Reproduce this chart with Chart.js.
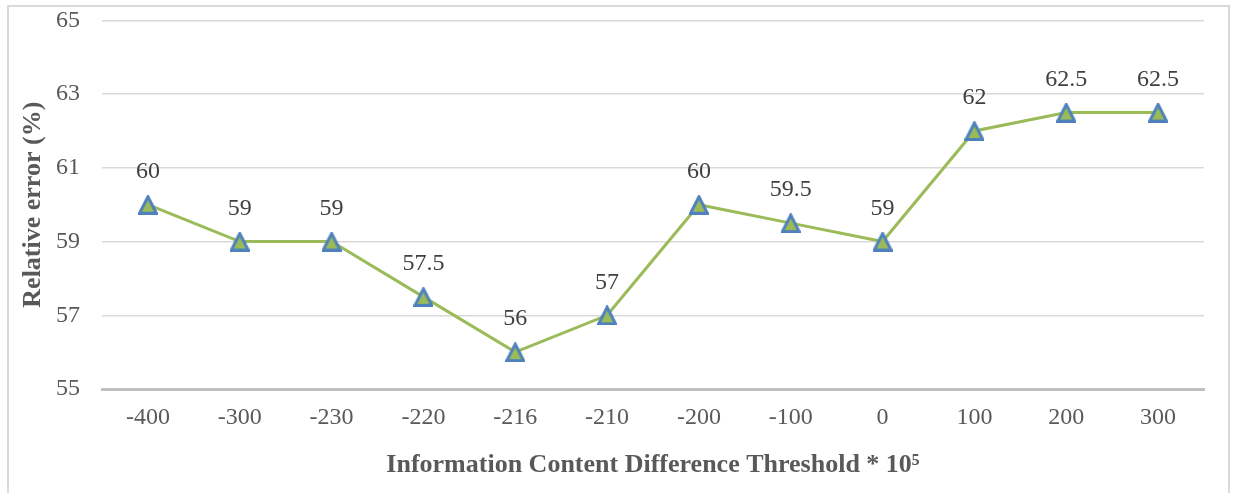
<!DOCTYPE html>
<html>
<head>
<meta charset="utf-8">
<script src="https://cdn.jsdelivr.net/npm/chart.js@4.4.1/dist/chart.umd.min.js"></script>
<style>
  html, body { margin: 0; padding: 0; background: #fff; }
  #wrap { position: relative; width: 1235px; height: 493px; overflow: hidden; }
  #frame { position: absolute; left: 7px; top: 5px; width: 1223px; height: 520px;
           border: 2px solid #D9D9D9; box-sizing: border-box; pointer-events: none; }
  canvas { position: absolute; left: 0; top: 0; }
</style>
</head>
<body>
<div id="wrap">
  <canvas id="chart" width="1235" height="493"></canvas>
  <div id="frame"></div>
</div>
<script>
// データ
const thresholds = ['-400', '-300', '-230', '-220', '-216', '-210', '-200', '-100', '0', '100', '200', '300'];
const relErrors = [60, 59, 59, 57.5, 56, 57, 60, 59.5, 59, 62, 62.5, 62.5];
const yTicks = [55, 57, 59, 61, 63, 65];

const serif = "'Liberation Serif', 'DejaVu Serif', serif";

// 三角マーカー（外接矩形の中心が点の位置になるように画像で作る）
function makeTriangle(size) {
    const c = document.createElement('canvas');
    c.width = size;
    c.height = size;
    const g = c.getContext('2d');
    const lw = 3;
    g.beginPath();
    g.moveTo(size / 2, lw / 2 + 0.5);
    g.lineTo(size - lw / 2, size - lw / 2);
    g.lineTo(lw / 2, size - lw / 2);
    g.closePath();
    g.fillStyle = '#9BBB59';
    g.fill();
    g.lineWidth = lw;
    g.lineJoin = 'miter';
    g.strokeStyle = '#4F81BD';
    g.stroke();
    return c;
}
const triangleMarker = makeTriangle(20);

// 点の上に値を描くだけの簡単なプラグイン
const valueLabels = {
    id: 'valueLabels',
    afterDatasetsDraw(chart) {
        const ctx = chart.ctx;
        const meta = chart.getDatasetMeta(0);
        ctx.save();
        ctx.font = '24px ' + serif;
        ctx.fillStyle = '#404040';
        ctx.textAlign = 'center';
        ctx.textBaseline = 'middle';
        meta.data.forEach((pt, i) => {
            ctx.fillText(String(relErrors[i]), pt.x, pt.y - 33);
        });
        ctx.restore();
    }
};

new Chart(document.getElementById('chart').getContext('2d'), {
    type: 'line',
    data: {
        labels: thresholds,
        datasets: [{
            data: relErrors,
            borderColor: '#9BBB59',
            borderWidth: 3,
            tension: 0,
            pointStyle: triangleMarker,
            pointRadius: 10
        }]
    },
    options: {
        responsive: false,
        animation: false,
        layout: { padding: { left: 0, right: 31, top: 0, bottom: 0 } },
        plugins: { legend: { display: false }, tooltip: { enabled: false } },
        scales: {
            x: {
                offset: true,
                grid: { display: false, drawTicks: false },
                border: { display: true, color: '#BFBFBF', width: 3 },
                ticks: { color: '#595959', font: { family: serif, size: 24 }, padding: 14, maxRotation: 0 },
                title: {
                    display: true,
                    text: 'Information Content Difference Threshold * 10⁵',
                    color: '#595959',
                    font: { family: serif, size: 26, weight: 'bold' },
                    padding: { top: 0, bottom: 12 }
                },
                afterFit(scale) { scale.height = 104; }
            },
            y: {
                min: 55,
                max: 65,
                afterBuildTicks(scale) { scale.ticks = yTicks.map(v => ({ value: v })); },
                // 目盛り線は見えないようにして、ラベルの間隔だけ確保
                grid: { color: '#D9D9D9', lineWidth: 1.5, drawTicks: true, tickLength: 16, tickColor: 'rgba(0,0,0,0)' },
                border: { display: false },
                ticks: { color: '#595959', font: { family: serif, size: 24 }, padding: 6 },
                title: {
                    display: true,
                    text: 'Relative error (%)',
                    color: '#595959',
                    font: { family: serif, size: 26, weight: 'bold' },
                    padding: { top: 18, bottom: 0 }
                },
                afterFit(scale) { scale.width = 102; }
            }
        }
    },
    plugins: [valueLabels]
});
</script>
</body>
</html>
